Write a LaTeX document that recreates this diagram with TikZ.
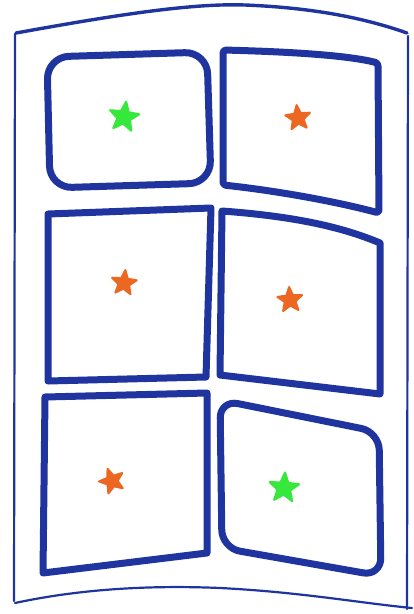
\documentclass[tikz,border=0pt]{standalone}
\usepackage{xcolor}
\usepackage{tikz}
\usetikzlibrary{shapes.geometric}
\definecolor{inkblue}{RGB}{32,52,160}
\definecolor{inkgreen}{RGB}{55,232,60}
\definecolor{inkorange}{RGB}{236,104,34}
\begin{document}
\begin{tikzpicture}[
  x=1pt, y=-1pt,
  panel/.style={draw=inkblue, line width=7pt, line join=round, line cap=round},
  page/.style={draw=inkblue, line width=2.2pt, line cap=round},
  starmark/.style={star, star points=5, star point ratio=2.3, minimum size=#1,
                   inner sep=0pt, line width=2pt, line join=round},
  greenstar/.style={starmark=31pt, draw=inkgreen, fill=inkgreen},
  orangestar/.style={starmark=26pt, draw=inkorange, fill=inkorange},
]
\useasboundingbox (0,0) rectangle (413,614);
% page outline
\draw[page, line width=3.4pt] (16,33) .. controls (110,16) and (190,3) .. (245,5)
      .. controls (320,8) and (370,20) .. (407,33);
\draw[page] (15,34) -- (14,601);
\draw[page] (408,36) -- (407,609);
\draw[page] (15,603) .. controls (80,589) and (150,585) .. (220,588)
      .. controls (300,592) and (360,603) .. (412,608);
% panels
\draw[panel, rounded corners=22pt] (47,57) -- (207,52) -- (211,183) -- (50,188) -- cycle;
\draw[panel, rounded corners=3pt] (223,50) .. controls (300,52) and (350,56) .. (378,63)
      -- (379,213) .. controls (330,200) and (270,190) .. (223,185) -- cycle;
\draw[panel] (48,214) -- (211,208) -- (206,377) -- (48,381) -- cycle;
\draw[panel] (222,211) .. controls (290,216) and (340,226) .. (380,243)
      -- (380,394) -- (220,375) -- cycle;
\draw[panel] (45,397) -- (207,393) -- (207,553) -- (43,573) -- cycle;
\draw[panel, rounded corners=18pt] (220,400) -- (379,432) -- (381,576) -- (222,548) -- cycle;
% stars
\node[greenstar, rotate=-8] (starA) at (124,117) {};
\node[orangestar, rotate=6] (starB) at (298,118) {};
\node[orangestar, rotate=-6] (starC) at (124,283) {};
\node[orangestar, rotate=4] (starD) at (290,300) {};
\node[orangestar, rotate=20] (starE) at (112,481) {};
\node[greenstar, rotate=-4] (starF) at (284,488) {};
\end{tikzpicture}
\end{document}
